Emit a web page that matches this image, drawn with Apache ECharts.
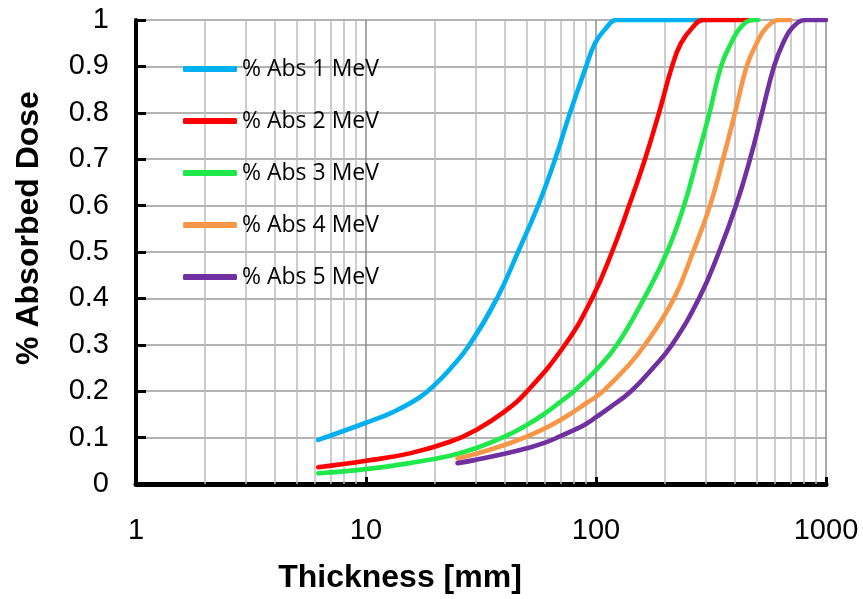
<!DOCTYPE html>
<html>
<head>
<meta charset="utf-8">
<script src="https://cdn.jsdelivr.net/npm/echarts@6/dist/echarts.min.js"></script>
<style>
  html, body { margin: 0; padding: 0; background: #fff; }
  #chart { width: 863px; height: 599px; }
</style>
</head>
<body>
<div id="chart"></div>
<script>
// Absorbed dose fraction versus shielding thickness, for five photon energies
const seriesNames = ['% Abs 1 MeV', '% Abs 2 MeV', '% Abs 3 MeV', '% Abs 4 MeV', '% Abs 5 MeV'];
const seriesColors = ['#00b0f0', '#ff0000', '#1ee84a', '#f79646', '#7030a0'];

const thick1 = [6.2, 10, 13.1, 17.2, 20.3, 23.2, 28.0, 37.1, 45.8, 56.0, 66.4, 77.1, 90.6, 99, 109.5, 123, 140, 300];
const dose1  = [0.095, 0.132, 0.155, 0.1875, 0.218, 0.248, 0.298, 0.4, 0.5, 0.6, 0.7, 0.8, 0.9, 0.95, 0.98, 1.0, 1.0, 1.0];

const thick2 = [6.2, 10, 15.5, 23.2, 30, 40, 50, 73.3, 96.1, 117.4, 139.2, 163.3, 187.9, 214.1, 234.2, 264, 292, 480];
const dose2  = [0.036, 0.05, 0.066, 0.091, 0.116, 0.156, 0.199, 0.3, 0.4, 0.5, 0.6, 0.7, 0.8, 0.9, 0.95, 0.985, 1.0, 1.0];

const thick3 = [6.2, 10, 15.5, 23.2, 30, 40, 50, 60, 70, 80.2, 102, 123.4, 161.8, 203.6, 241.3, 274.9, 311.5, 349.6, 386.4, 427, 481.6, 506];
const dose3  = [0.023, 0.032, 0.045, 0.061, 0.077, 0.102, 0.127, 0.152, 0.177, 0.2, 0.25, 0.3, 0.4, 0.5, 0.6, 0.7, 0.8, 0.9, 0.95, 0.985, 1.0, 1.0];

const thick4 = [25, 30, 40, 50, 60, 70, 80, 90, 100, 107.3, 135, 163.3, 218.3, 264.1, 313.1, 356.6, 402.2, 452, 499.6, 554, 631, 700];
const dose4  = [0.055, 0.065, 0.084, 0.102, 0.12, 0.138, 0.156, 0.173, 0.188, 0.2, 0.25, 0.3, 0.4, 0.5, 0.6, 0.7, 0.8, 0.9, 0.95, 0.985, 1.0, 1.0];

const thick5 = [25, 30, 40, 50, 60, 70, 80, 90, 100, 115, 142, 176.9, 214.1, 280.4, 342.6, 406.2, 467.3, 526.8, 594.2, 650.2, 718.7, 818.5, 1000];
const dose5  = [0.045, 0.052, 0.065, 0.077, 0.089, 0.103, 0.116, 0.129, 0.144, 0.165, 0.2, 0.25, 0.3, 0.4, 0.5, 0.6, 0.7, 0.8, 0.9, 0.95, 0.985, 1.0, 1.0];

// Minor vertical gridlines of the log axis (2..9 within each decade)
const minorThicknessTicks = [2, 3, 4, 5, 6, 7, 8, 9, 20, 30, 40, 50, 60, 70, 80, 90, 200, 300, 400, 500, 600, 700, 800, 900];

const xTitle = 'Thickness [mm]';
const yTitle = '% Absorbed Dose';

const thicknessSets = [thick1, thick2, thick3, thick4, thick5];
const doseSets = [dose1, dose2, dose3, dose4, dose5];

function pairs(xs, ys) {
  return xs.map((x, i) => [x, ys[i]]);
}

const chart = echarts.init(document.getElementById('chart'), null, { renderer: 'canvas' });

const curveSeries = seriesNames.map((name, i) => ({
  name: name,
  type: 'line',
  data: pairs(thicknessSets[i], doseSets[i]),
  smooth: 0.45,
  showSymbol: false,
  symbol: 'none',
  z: 3 + i,
  clip: true,
  lineStyle: { color: seriesColors[i], width: 4.6, cap: 'round', join: 'round' },
  itemStyle: { color: seriesColors[i] }
}));

const gridSeries = {
  name: 'minor-grid',
  type: 'line',
  data: [],
  silent: true,
  z: 1,
  markLine: {
    silent: true,
    symbol: ['none', 'none'],
    animation: false,
    z: 1,
    label: { show: false },
    lineStyle: { color: '#bdbdbd', width: 1.5, type: 'solid' },
    emphasis: { disabled: true },
    data: minorThicknessTicks.map(v => ({ xAxis: v }))
  }
};

const option = {
  animation: false,
  backgroundColor: '#ffffff',
  grid: { left: 136, right: 37, top: 20, bottom: 115, containLabel: false },
  legend: {
    data: seriesNames,
    orient: 'vertical',
    left: 183,
    top: 57,
    padding: 0,
    itemWidth: 54,
    itemHeight: 6,
    itemGap: 28,
    itemTextGap: 3,
    icon: 'roundRect',
    selectedMode: false,
    textStyle: { fontFamily: 'Open Sans', fontSize: 23, color: '#000', lineHeight: 24 }
  },
  xAxis: {
    type: 'log',
    logBase: 10,
    min: 1,
    max: 1000,
    axisLine: { show: true, onZero: false, lineStyle: { color: '#000', width: 5 } },
    axisTick: { show: true, inside: true, length: 7, lineStyle: { color: '#000', width: 3 } },
    axisLabel: {
      margin: 32,
      fontFamily: 'Liberation Sans',
      fontSize: 29,
      color: '#000',
      formatter: v => String(Math.round(v))
    },
    splitLine: { show: true, lineStyle: { color: '#8c8c8c', width: 1.5 } },
    minorTick: { show: false },
    minorSplitLine: { show: false }
  },
  yAxis: {
    type: 'value',
    min: 0,
    max: 1,
    interval: 0.1,
    axisLine: { show: true, onZero: false, lineStyle: { color: '#000', width: 4 } },
    axisTick: { show: true, inside: true, length: 10, lineStyle: { color: '#000', width: 3 } },
    axisLabel: {
      margin: 27,
      fontFamily: 'Liberation Sans',
      fontSize: 29,
      color: '#000',
      formatter: v => String(Math.round(v * 10) / 10)
    },
    splitLine: { show: true, lineStyle: { color: '#9a9a9a', width: 1.5 } }
  },
  graphic: [
    {
      type: 'text',
      x: 400,
      y: 578,
      style: { text: xTitle, font: 'bold 32px "Liberation Sans"', fill: '#000', align: 'center', verticalAlign: 'middle' }
    },
    {
      type: 'text',
      x: 29,
      y: 228,
      rotation: Math.PI / 2,
      style: { text: yTitle, font: 'bold 32px "Liberation Sans"', fill: '#000', align: 'center', verticalAlign: 'middle' }
    }
  ],
  series: [gridSeries].concat(curveSeries)
};

chart.setOption(option);
</script>
</body>
</html>
